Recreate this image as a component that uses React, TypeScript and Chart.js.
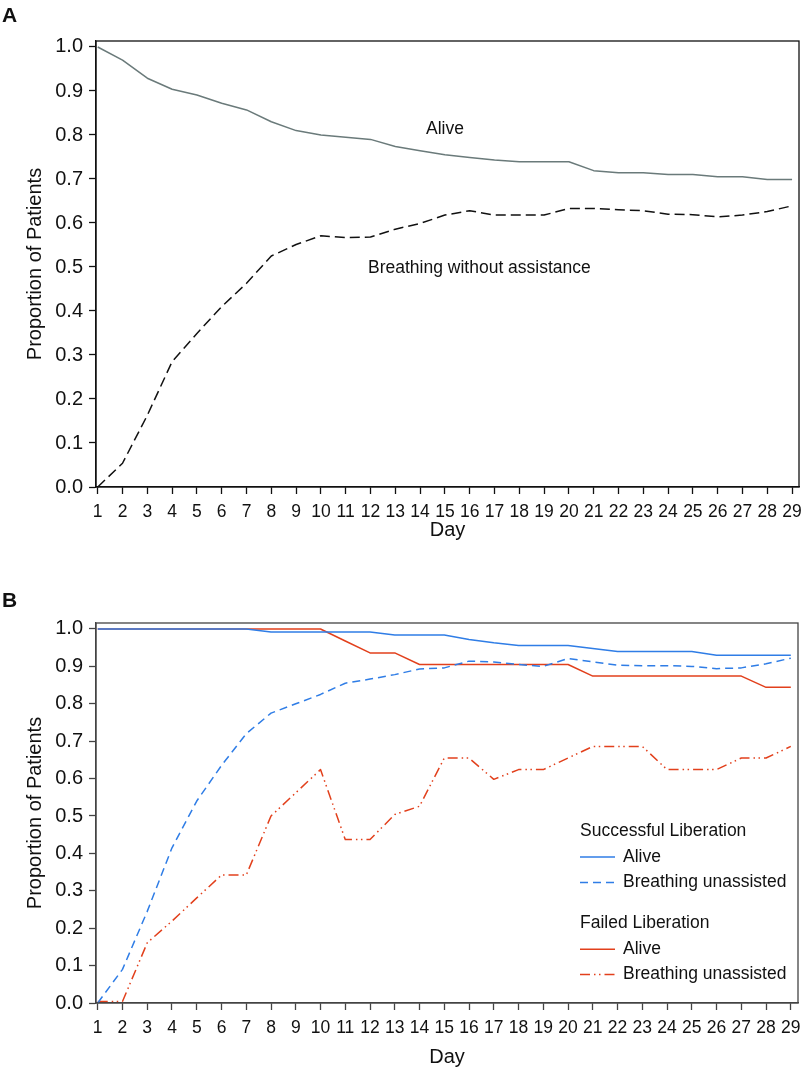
import React, { useEffect, useRef } from 'react';
import { Chart, registerables } from 'chart.js';

Chart.register(...registerables);

const FONT = '"Liberation Sans", Arial, Helvetica, sans-serif';

// ---------- shared axes ----------
const days = [1, 2, 3, 4, 5, 6, 7, 8, 9, 10, 11, 12, 13, 14, 15, 16, 17, 18, 19, 20, 21, 22, 23, 24, 25, 26, 27, 28, 29];
const yTickValues = [0, 0.1, 0.2, 0.3, 0.4, 0.5, 0.6, 0.7, 0.8, 0.9, 1.0];

// ---------- Panel A ----------
const aliveA = [1.0, 0.970, 0.929, 0.904, 0.891, 0.872, 0.857, 0.830, 0.810, 0.800, 0.795, 0.790, 0.774, 0.764, 0.755, 0.749, 0.743, 0.739, 0.739, 0.739, 0.719, 0.714, 0.714, 0.710, 0.710, 0.705, 0.705, 0.699, 0.699];
const breathingA = [0.0, 0.054, 0.163, 0.285, 0.349, 0.410, 0.463, 0.525, 0.551, 0.571, 0.567, 0.568, 0.586, 0.599, 0.618, 0.628, 0.618, 0.618, 0.618, 0.633, 0.633, 0.630, 0.628, 0.620, 0.619, 0.614, 0.618, 0.626, 0.639];
const labelsA = [
  { text: 'Alive', day: 14.24, value: 0.8136 },
  { text: 'Breathing without assistance', day: 11.9, value: 0.498 },
];

// ---------- Panel B ----------
const successAlive = [1, 1, 1, 1, 1, 1, 1, 0.992, 0.992, 0.992, 0.992, 0.992, 0.984, 0.984, 0.984, 0.972, 0.963, 0.956, 0.956, 0.956, 0.948, 0.940, 0.940, 0.940, 0.940, 0.930, 0.930, 0.930, 0.930];
const successBreathing = [0, 0.09, 0.245, 0.415, 0.54, 0.635, 0.72, 0.775, 0.80, 0.825, 0.855, 0.866, 0.878, 0.893, 0.896, 0.914, 0.912, 0.905, 0.900, 0.921, 0.912, 0.903, 0.902, 0.902, 0.900, 0.894, 0.896, 0.907, 0.922];
const failedAlive = [1, 1, 1, 1, 1, 1, 1, 1, 1, 1, 0.968, 0.936, 0.936, 0.905, 0.905, 0.905, 0.905, 0.905, 0.905, 0.905, 0.874, 0.874, 0.874, 0.874, 0.874, 0.874, 0.874, 0.844, 0.844];
const failedBreathing = [0.004, 0.004, 0.161, 0.219, 0.281, 0.342, 0.342, 0.500, 0.562, 0.624, 0.437, 0.437, 0.504, 0.526, 0.655, 0.655, 0.598, 0.624, 0.624, 0.655, 0.686, 0.686, 0.686, 0.624, 0.624, 0.624, 0.655, 0.655, 0.686];
const legendGroups = ['Successful Liberation', 'Failed Liberation'];
const seriesNamesB = ['Alive', 'Breathing unassisted', 'Alive', 'Breathing unassisted'];

const BLUE = '#2f7de6';
const RED = '#e2401c';
const GRAY = '#6a7a7a';

const pts = (arr: number[]) => days.map((d, i) => ({ x: d, y: arr[i] }));

type Cfg = {
  canvas: HTMLCanvasElement;
  datasets: any[];
  xMin: number;
  xMax: number;
  yMax: number;
  topPad: number;
  rightPad: number;
  xAxisHeight: number;
  titleBottomPad: number;
  axisColor: string;
  extra: any;
};

function buildChart(c: Cfg) {
  const boxPlugin = {
    id: 'box',
    afterDraw(chart: any) {
      const { ctx, chartArea: a } = chart;
      ctx.save();
      ctx.strokeStyle = c.axisColor;
      ctx.lineWidth = 1.3;
      ctx.strokeRect(a.left, a.top, a.right - a.left, a.bottom - a.top);
      ctx.restore();
    },
  };
  return new Chart(c.canvas, {
    type: 'line',
    data: { datasets: c.datasets.map((d) => ({ clip: 3, ...d })) },
    options: {
      responsive: false,
      animation: false,
      layout: { padding: { top: c.topPad, right: c.rightPad, left: 0, bottom: 0 } },
      elements: { point: { radius: 0 }, line: { tension: 0, borderJoinStyle: 'round' } },
      plugins: { legend: { display: false }, tooltip: { enabled: false } },
      scales: {
        x: {
          type: 'linear',
          min: c.xMin,
          max: c.xMax,
          afterBuildTicks: (s: any) => { s.ticks = days.map((v) => ({ value: v })); },
          afterFit: (s: any) => { s.height = c.xAxisHeight; s.paddingLeft = 0; s.paddingRight = 0; },
          ticks: {
            autoSkip: false, maxRotation: 0, minRotation: 0, padding: 8, color: '#111',
            font: { family: FONT, size: 17.5 },
            callback: (v: any) => String(v),
          },
          grid: { drawOnChartArea: false, drawTicks: true, tickLength: 7, color: c.axisColor, tickWidth: 1.3 },
          border: { display: true, color: c.axisColor, width: 1.3 },
          title: { display: true, text: 'Day', color: '#111', font: { family: FONT, size: 20 }, padding: { top: 0, bottom: c.titleBottomPad } },
        },
        y: {
          type: 'linear',
          min: 0,
          max: c.yMax,
          afterBuildTicks: (s: any) => { s.ticks = yTickValues.map((v) => ({ value: v })); },
          afterFit: (s: any) => { s.width = 96; s.paddingTop = 0; s.paddingBottom = 0; },
          ticks: {
            autoSkip: false, padding: 6, color: '#111',
            font: { family: FONT, size: 20 },
            callback: (v: any) => Number(v).toFixed(1),
          },
          grid: { drawOnChartArea: false, drawTicks: true, tickLength: 7, color: c.axisColor, tickWidth: 1.3 },
          border: { display: true, color: c.axisColor, width: 1.3 },
          title: { display: true, text: 'Proportion of Patients', color: '#111', font: { family: FONT, size: 20 }, padding: { top: 23, bottom: 0 } },
        },
      },
    } as any,
    plugins: [boxPlugin, c.extra],
  });
}

export default function App() {
  const refA = useRef<HTMLCanvasElement>(null);
  const refB = useRef<HTMLCanvasElement>(null);

  useEffect(() => {
    const labelPluginA = {
      id: 'labelsA',
      afterDatasetsDraw(chart: any) {
        const { ctx, scales } = chart;
        ctx.save();
        ctx.fillStyle = '#111';
        ctx.font = `17.5px ${FONT}`;
        ctx.textAlign = 'left';
        ctx.textBaseline = 'middle';
        labelsA.forEach((l) => {
          ctx.fillText(l.text, scales.x.getPixelForValue(l.day), scales.y.getPixelForValue(l.value));
        });
        ctx.restore();
      },
    };

    const legendPluginB = {
      id: 'legendB',
      afterDraw(chart: any) {
        const { ctx, chartArea: a } = chart;
        const ds = chart.data.datasets;
        const x0 = a.left + 484;
        const rowsY = [0, 26, 51.6, 92.6, 118.3, 143.6].map((o) => a.top + 208 + o);
        ctx.save();
        ctx.fillStyle = '#111';
        ctx.font = `17.5px ${FONT}`;
        ctx.textAlign = 'left';
        ctx.textBaseline = 'middle';
        ctx.fillText(legendGroups[0], x0, rowsY[0]);
        ctx.fillText(legendGroups[1], x0, rowsY[3]);
        const itemRows = [rowsY[1], rowsY[2], rowsY[4], rowsY[5]];
        itemRows.forEach((y, i) => {
          const d = ds[i];
          ctx.save();
          ctx.strokeStyle = d.borderColor;
          ctx.lineWidth = d.borderWidth;
          ctx.setLineDash(d.borderDash || []);
          ctx.beginPath();
          ctx.moveTo(x0, y);
          ctx.lineTo(x0 + 35, y);
          ctx.stroke();
          ctx.restore();
          ctx.fillText(seriesNamesB[i], x0 + 43, y);
        });
        ctx.restore();
      },
    };

    const chartA = buildChart({
      canvas: refA.current!,
      datasets: [
        { label: 'Alive', data: pts(aliveA), borderColor: GRAY, borderWidth: 1.5, fill: false },
        { label: 'Breathing without assistance', data: pts(breathingA), borderColor: '#111', borderWidth: 1.5, borderDash: [10, 5], fill: false },
      ],
      xMin: 0.93,
      xMax: 29.28,
      yMax: 1.0136,
      topPad: 41,
      rightPad: 3,
      xAxisHeight: 54,
      titleBottomPad: -1,
      axisColor: '#111',
      extra: labelPluginA,
    });

    const chartB = buildChart({
      canvas: refB.current!,
      datasets: [
        { label: 'Successful Liberation – Alive', data: pts(successAlive), borderColor: BLUE, borderWidth: 1.5, fill: false },
        { label: 'Successful Liberation – Breathing unassisted', data: pts(successBreathing), borderColor: BLUE, borderWidth: 1.5, borderDash: [8, 5], fill: false },
        { label: 'Failed Liberation – Alive', data: pts(failedAlive), borderColor: RED, borderWidth: 1.5, fill: false },
        { label: 'Failed Liberation – Breathing unassisted', data: pts(failedBreathing), borderColor: RED, borderWidth: 1.5, borderDash: [10, 4, 1.5, 3.5, 1.5, 4], fill: false },
      ],
      xMin: 0.93,
      xMax: 29.29,
      yMax: 1.016,
      topPad: 82,
      rightPad: 4,
      xAxisHeight: 64,
      titleBottomPad: -2,
      axisColor: '#444',
      extra: legendPluginB,
    });

    return () => {
      chartA.destroy();
      chartB.destroy();
    };
  }, []);

  const letter: React.CSSProperties = {
    position: 'absolute',
    left: 2,
    fontFamily: FONT,
    fontWeight: 'bold',
    fontSize: 21,
    lineHeight: '21px',
    color: '#111',
  };

  return (
    <div style={{ position: 'absolute', top: 0, left: 0, width: 802, height: 1067, background: '#fff', overflow: 'hidden' }}>
      <canvas ref={refA} width={802} height={541} style={{ position: 'absolute', top: 0, left: 0, width: 802, height: 541 }} />
      <canvas ref={refB} width={802} height={526} style={{ position: 'absolute', top: 541, left: 0, width: 802, height: 526 }} />
      <div style={{ ...letter, top: 4 }}>A</div>
      <div style={{ ...letter, top: 589 }}>B</div>
    </div>
  );
}
